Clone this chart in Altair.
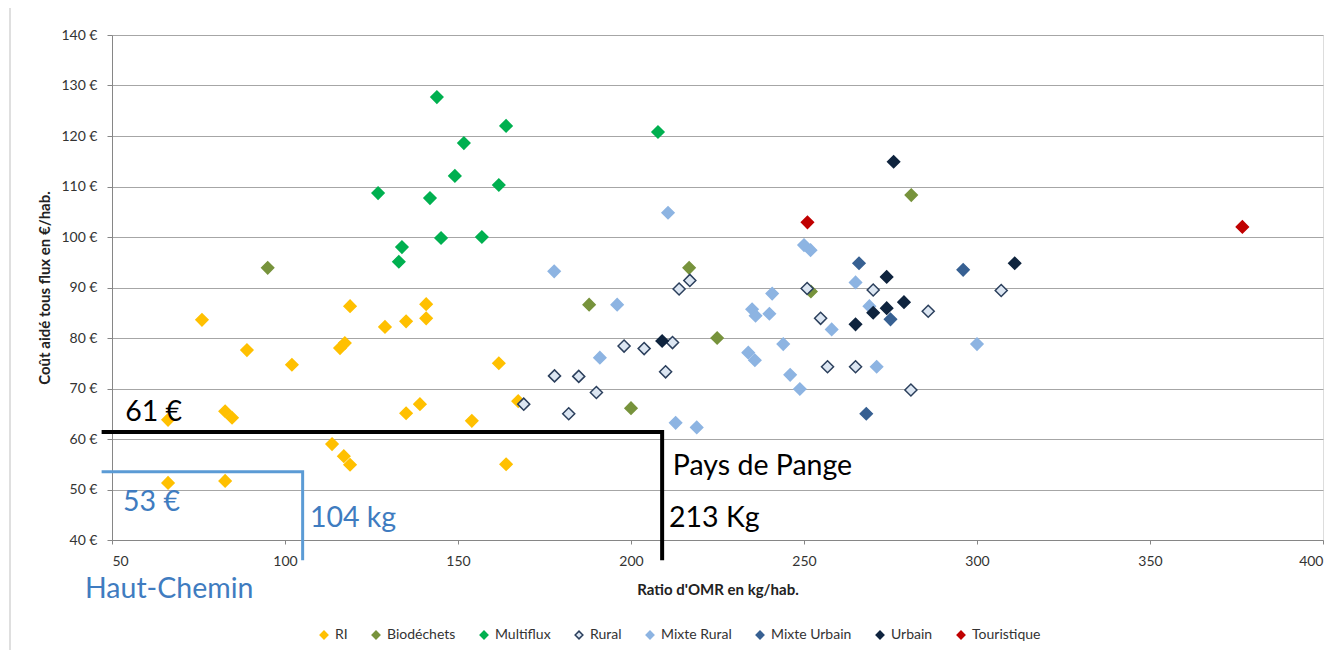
import altair as alt
import pandas as pd

# ---------------- data ----------------
series_order = ["RI", "Biodéchets", "Multiflux", "Rural", "Mixte Rural",
                "Mixte Urbain", "Urbain", "Touristique"]
fill_colors = ["#FFC000", "#77933C", "#00B050", "#DCE6F2", "#8DB4E2",
               "#376092", "#0F243E", "#C00000"]
stroke_colors = ["#FFC000", "#77933C", "#00B050", "#2B3F5C", "#8DB4E2",
                 "#376092", "#0F243E", "#C00000"]

ri_x = [76, 89, 102, 66.2, 82.7, 84.7, 66.2, 82.7, 113.6, 117, 118.8, 118.8,
        115.9, 117.3, 128.9, 135, 140.8, 140.8, 135, 139, 154, 161.8, 163.9, 167.4]
ri_y = [83.6, 77.6, 74.7, 63.8, 65.5, 64.2, 51.3, 51.7, 59, 56.6, 54.9, 86.3,
        78, 79, 82.2, 83.3, 86.7, 83.9, 65.1, 66.9, 63.6, 75, 55, 67.5]

bio_x = [95, 187.9, 216.8, 200, 224.9, 252, 281]
bio_y = [93.9, 86.6, 93.9, 66.1, 80, 89.2, 108.3]

multi_x = [143.9, 163.9, 151.7, 207.8, 149.1, 161.8, 126.9, 141.9, 145.1, 156.9, 133.8, 132.9]
multi_y = [127.7, 122, 118.6, 120.8, 112.1, 110.3, 108.7, 107.7, 99.8, 100, 98, 95.1]

rural_x = [213.9, 217, 198, 203.8, 212, 210, 177.9, 184.9, 190, 169, 182,
           250.9, 270, 307, 285.9, 254.8, 256.8, 264.9, 280.9]
rural_y = [89.7, 91.4, 78.4, 77.9, 79.1, 73.3, 72.5, 72.4, 69.2, 66.9, 65,
           89.8, 89.5, 89.4, 85.3, 83.9, 74.3, 74.3, 69.7]

mrural_x = [210.7, 177.8, 196, 191, 212.9, 219, 235, 236, 240, 240.8, 233.9,
            235.8, 244, 246, 248.8, 250, 251.9, 264.9, 268.9, 258, 271, 300]
mrural_y = [104.8, 93.2, 86.6, 76.1, 63.2, 62.3, 85.7, 84.4, 84.8, 88.8, 77.1,
            75.6, 78.8, 72.7, 69.9, 98.4, 97.4, 91, 86.3, 81.7, 74.3, 78.8]

murbain_x = [265.9, 296, 275, 268]
murbain_y = [94.8, 93.5, 83.7, 65]

urbain_x = [209, 275.9, 273.9, 278.9, 273.9, 270, 264.9, 310.9]
urbain_y = [79.4, 114.9, 92.1, 87.1, 85.9, 85, 82.7, 94.8]

tour_x = [251, 376.7]
tour_y = [102.9, 102]

# annotation lines (data units)
pange_x = [47, 209, 209]
pange_y = [61.4, 61.4, 36]
hc_x = [47, 105.1, 105.1]
hc_y = [53.5, 53.5, 36]

# annotation texts
ann_text = ["61 €", "Pays de Pange", "213 Kg", "53 €", "104 kg", "Haut-Chemin"]
ann_x = [53.8, 212.1, 211, 53.2, 107.2, 42.2]
ann_y = [63.6, 52.9, 42.6, 45.7, 42.6, 28.5]
ann_col = ["#000000", "#000000", "#000000", "#3F7CC0", "#3F7CC0", "#3F7CC0"]

# ---------------- build tables ----------------
groups = [(ri_x, ri_y), (bio_x, bio_y), (multi_x, multi_y), (rural_x, rural_y),
          (mrural_x, mrural_y), (murbain_x, murbain_y), (urbain_x, urbain_y),
          (tour_x, tour_y)]
rows = []
for name, (xs, ys) in zip(series_order, groups):
    for xv, yv in zip(xs, ys):
        rows.append({"serie": name, "x": xv, "y": yv})
df = pd.DataFrame(rows)

pange_df = pd.DataFrame({"x": pange_x, "y": pange_y, "step": range(len(pange_x))})
hc_df = pd.DataFrame({"x": hc_x, "y": hc_y, "step": range(len(hc_x))})
ann_df = pd.DataFrame({"t": ann_text, "x": ann_x, "y": ann_y, "c": ann_col})

FONT = "Lato"

xscale = alt.Scale(domain=[50, 400], nice=False, zero=False)
yscale = alt.Scale(domain=[40, 140], nice=False, zero=False)

legend = alt.Legend(
    title=None, orient="none", direction="horizontal", columns=8,
    legendX=205, legendY=593, symbolType="diamond", symbolSize=60,
    symbolStrokeWidth=1.5, labelFontSize=14, labelFont=FONT,
    labelColor="#333333", columnPadding=21, labelOffset=4, padding=0,
)

points = alt.Chart(df).mark_point(
    shape="diamond", filled=True, size=145, strokeWidth=1.5, opacity=1
).encode(
    x=alt.X("x:Q", scale=xscale, axis=alt.Axis(
        title="Ratio d'OMR en kg/hab.", values=list(range(50, 401, 50)),
        grid=False, tickSize=4, tickColor="#868686", domainColor="#868686",
        labelFontSize=14, labelFont=FONT, labelColor="#333333", labelPadding=10,
        titleFont=FONT, titleFontSize=15, titleFontWeight="bold",
        titleColor="#222222", titlePadding=14)),
    y=alt.Y("y:Q", scale=yscale, axis=alt.Axis(
        title="Coût aidé tous flux en €/hab.", values=list(range(40, 141, 10)),
        labelExpr="datum.value + ' €'", grid=True, gridColor="#A6A6A6",
        tickSize=5, tickColor="#868686", domainColor="#868686",
        labelFontSize=14, labelFont=FONT, labelColor="#333333", labelPadding=10,
        titleFont=FONT, titleFontSize=15, titleFontWeight="bold",
        titleColor="#222222", titlePadding=8)),
    fill=alt.Fill("serie:N", scale=alt.Scale(domain=series_order, range=fill_colors),
                  legend=legend, sort=series_order),
    stroke=alt.Stroke("serie:N", scale=alt.Scale(domain=series_order, range=stroke_colors),
                      legend=legend, sort=series_order),
    order=alt.Order("idx:Q"),
).transform_window(idx="row_number()")

pange_line = alt.Chart(pange_df).mark_line(
    color="#000000", strokeWidth=4, strokeJoin="miter", strokeCap="butt"
).encode(x=alt.X("x:Q", scale=xscale), y=alt.Y("y:Q", scale=yscale),
         order=alt.Order("step:Q"))

hc_line = alt.Chart(hc_df).mark_line(
    color="#5B9BD5", strokeWidth=3, strokeJoin="miter", strokeCap="butt"
).encode(x=alt.X("x:Q", scale=xscale), y=alt.Y("y:Q", scale=yscale),
         order=alt.Order("step:Q"))

texts = alt.Chart(ann_df).mark_text(
    align="left", baseline="alphabetic", fontSize=28.5, font=FONT
).encode(x=alt.X("x:Q", scale=xscale), y=alt.Y("y:Q", scale=yscale),
         text="t:N", color=alt.Color("c:N", scale=None))

frame = alt.Chart(pd.DataFrame({"a": [0]})).mark_rule(
    color="#BFBFBF", strokeWidth=1
).encode(x=alt.value(-102), y=alt.value(-27), y2=alt.value(615))

chart = alt.layer(frame, points, pange_line, hc_line, texts).properties(
    width=1211, height=505,
    padding={"left": 104, "top": 27, "right": 10, "bottom": 110},
    autosize=alt.AutoSizeParams(type="none"),
).configure_view(stroke=None).configure(font=FONT)

chart.save("out.html", embed_options={"renderer": "svg", "actions": False})
